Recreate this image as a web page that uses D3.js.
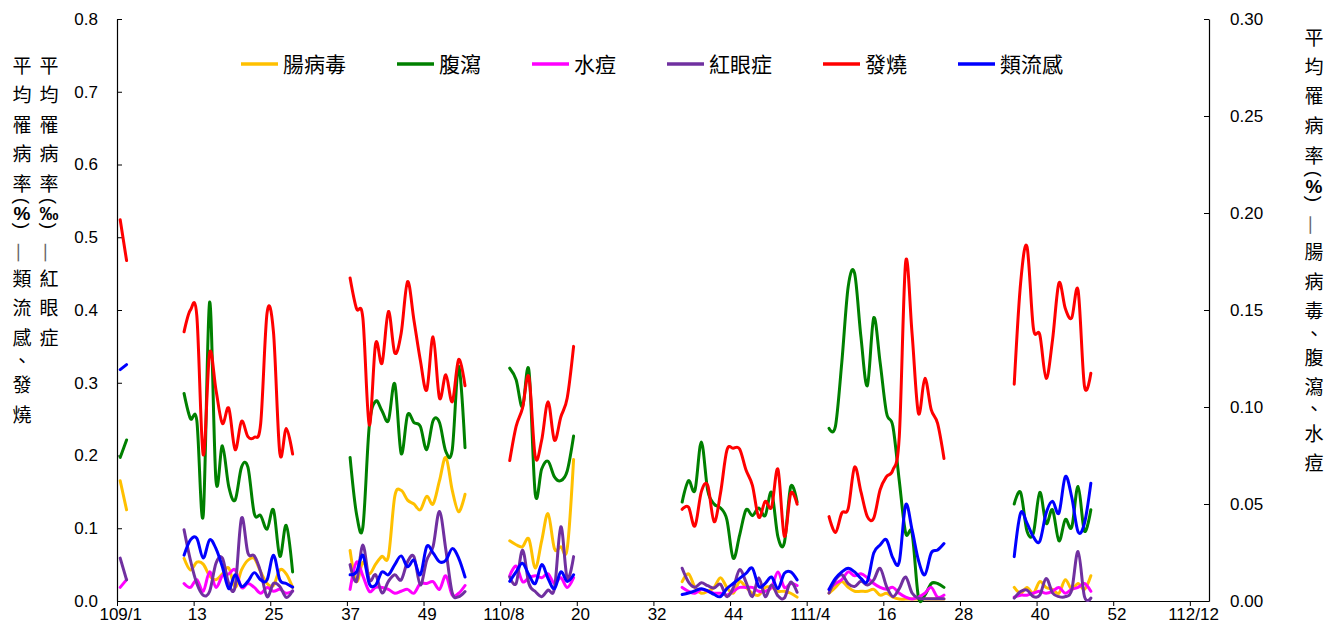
<!DOCTYPE html>
<html><head><meta charset="utf-8">
<script src="https://cdn.jsdelivr.net/npm/d3@7"></script>
<style>body{margin:0;background:#fff}svg{display:block}</style>
</head><body>
<svg id="chart" width="1340" height="624"></svg>
<script>
// ---- data (weekly average morbidity; segments start at these week indices, 0 = 109/1) ----
const segStart = [0, 10, 36, 61, 88, 111, 140];
const nWeeks = 171;
const xTickLabels = ["109/1","13","25","37","49","110/8","20","32","44","111/4","16","28","40","52","112/12"];
const leftTicks = [0,0.1,0.2,0.3,0.4,0.5,0.6,0.7,0.8];
const rightTicks = [0,0.05,0.10,0.15,0.20,0.25,0.30];

// 腸病毒 (right axis, %)
const enterovirus = [
  [0.062,0.047],
  [0.022,0.016,0.020,0.019,0.013,0.011,0.014,0.017,0.007,0.016,0.021,0.022,0.015,0.009,0.008,0.016,0.014,0.007],
  [0.026,0.010,0.020,0.014,0.019,0.023,0.023,0.054,0.057,0.052,0.050,0.047,0.054,0.050,0.062,0.074,0.057,0.046,0.055],
  [0.031,0.029,0.028,0.032,0.017,0.031,0.045,0.027,0.028,0.027,0.073],
  [0.010,0.014,0.007,0.004,0.005,0.007,0.012,0.007,0.004,0.010,0.007,0.004,0.003,0.007,0.007,0.005,0.005,0.004,0.002],
  [0.004,0.007,0.010,0.007,0.005,0.005,0.005,0.006,0.003,0.004,0.002,0.001,0.001,0.001,0.001,0.001,0.001,0.001,0.001],
  [0.007,0.004,0.007,0.004,0.010,0.007,0.006,0.004,0.011,0.006,0.009,0.006,0.013]
];
// 腹瀉 (right axis, %)
const diarrhea = [
  [0.074,0.083],
  [0.107,0.094,0.093,0.044,0.154,0.062,0.080,0.059,0.052,0.069,0.069,0.045,0.044,0.037,0.047,0.023,0.039,0.015],
  [0.074,0.045,0.038,0.090,0.103,0.098,0.093,0.112,0.076,0.096,0.092,0.090,0.078,0.093,0.092,0.077,0.078,0.121,0.079],
  [0.120,0.114,0.100,0.119,0.055,0.068,0.072,0.064,0.062,0.067,0.085],
  [0.051,0.062,0.057,0.082,0.057,0.050,0.048,0.042,0.022,0.034,0.047,0.044,0.048,0.044,0.056,0.033,0.030,0.059,0.051],
  [0.089,0.090,0.123,0.162,0.169,0.136,0.111,0.146,0.123,0.097,0.090,0.062,0.035,0.035,0.002,0.003,0.009,0.009,0.007],
  [0.050,0.056,0.036,0.035,0.056,0.040,0.047,0.031,0.042,0.038,0.059,0.036,0.047]
];
// 水痘 (right axis, %)
const chickenpox = [
  [0.007,0.011],
  [0.009,0.007,0.011,0.005,0.015,0.007,0.013,0.014,0.016,0.007,0.009,0.007,0.004,0.007,0.005,0.006,0.004,0.005],
  [0.006,0.020,0.013,0.005,0.007,0.007,0.006,0.004,0.005,0.006,0.004,0.009,0.009,0.010,0.006,0.013,0.003,0.004,0.008],
  [0.013,0.018,0.010,0.012,0.013,0.012,0.014,0.009,0.012,0.007,0.012],
  [0.007,0.005,0.004,0.006,0.005,0.004,0.004,0.003,0.005,0.007,0.007,0.007,0.005,0.005,0.007,0.015,0.007,0.009,0.008],
  [0.006,0.009,0.011,0.015,0.013,0.014,0.012,0.009,0.007,0.006,0.007,0.004,0.002,0.001,0.002,0.004,0.007,0.002,0.003],
  [0.002,0.003,0.003,0.004,0.005,0.004,0.005,0.007,0.004,0.006,0.007,0.009,0.005]
];
// 紅眼症 (left axis, ‰)
const conjunctivitis = [
  [0.059,0.029],
  [0.098,0.056,0.024,0.008,0.013,0.052,0.059,0.024,0.020,0.114,0.066,0.062,0.040,0.006,0.024,0.020,0.005,0.014],
  [0.050,0.027,0.077,0.029,0.036,0.011,0.027,0.036,0.029,0.054,0.061,0.022,0.056,0.075,0.123,0.070,0.011,0.006,0.013],
  [0.033,0.024,0.070,0.024,0.013,0.006,0.015,0.017,0.102,0.031,0.061],
  [0.045,0.026,0.019,0.025,0.021,0.018,0.023,0.006,0.018,0.043,0.026,0.006,0.032,0.006,0.022,0.007,0.004,0.026,0.012],
  [0.011,0.029,0.036,0.024,0.020,0.027,0.022,0.029,0.045,0.020,0.006,0.017,0.033,0.011,0.004,0.003,0.003,0.003,0.003],
  [0.004,0.013,0.015,0.006,0.008,0.031,0.011,0.006,0.006,0.015,0.068,0.006,0.004]
];
// 發燒 (left axis, %)
const fever = [
  [0.524,0.468],
  [0.370,0.400,0.392,0.201,0.341,0.290,0.244,0.265,0.208,0.247,0.226,0.225,0.244,0.396,0.370,0.203,0.237,0.202],
  [0.444,0.402,0.389,0.242,0.354,0.327,0.398,0.341,0.368,0.439,0.386,0.331,0.290,0.363,0.279,0.311,0.274,0.332,0.296],
  [0.193,0.240,0.265,0.308,0.198,0.221,0.274,0.221,0.253,0.279,0.350],
  [0.126,0.129,0.103,0.150,0.159,0.109,0.148,0.207,0.210,0.209,0.180,0.159,0.115,0.137,0.129,0.181,0.089,0.148,0.133],
  [0.116,0.094,0.121,0.127,0.184,0.150,0.116,0.114,0.153,0.171,0.180,0.226,0.466,0.368,0.258,0.306,0.263,0.244,0.196],
  [0.298,0.437,0.487,0.375,0.366,0.306,0.359,0.437,0.402,0.389,0.427,0.295,0.313]
];
// 類流感 (left axis, %)
const influenza = [
  [0.318,0.325],
  [0.063,0.084,0.086,0.059,0.084,0.072,0.047,0.017,0.036,0.020,0.027,0.039,0.029,0.029,0.063,0.029,0.024,0.019],
  [0.036,0.040,0.063,0.024,0.022,0.040,0.036,0.050,0.062,0.047,0.056,0.036,0.075,0.066,0.054,0.056,0.072,0.059,0.033],
  [0.027,0.040,0.052,0.036,0.024,0.050,0.031,0.017,0.040,0.027,0.036],
  [0.009,0.011,0.014,0.017,0.014,0.009,0.006,0.017,0.024,0.031,0.038,0.045,0.020,0.024,0.033,0.017,0.038,0.040,0.029],
  [0.016,0.031,0.040,0.045,0.040,0.031,0.027,0.066,0.077,0.084,0.059,0.054,0.132,0.098,0.056,0.036,0.066,0.070,0.079],
  [0.061,0.121,0.107,0.088,0.082,0.121,0.137,0.121,0.171,0.143,0.095,0.107,0.162]
];

const seriesNames  = ["腸病毒","腹瀉","水痘","紅眼症","發燒","類流感"];
const seriesData   = [enterovirus, diarrhea, chickenpox, conjunctivitis, fever, influenza];
const seriesAxis   = ["right","right","right","left","left","left"];
const seriesColors = ["#FFC000","#008000","#FF00FF","#7030A0","#FF0000","#0000FF"];

const leftTitle1 = ["平","均","罹","病","率","(","%",")","—","類","流","感","、","發","燒"];
const leftTitle2 = ["平","均","罹","病","率","(","‰",")","—","紅","眼","症"];
const rightTitle = ["平","均","罹","病","率","(","%",")","—","腸","病","毒","、","腹","瀉","、","水","痘"];

// ---- layout ----
const svg = d3.select("#chart");
const L = 117, R = 1209, T = 19, B = 601;
const latin = "'Liberation Sans', Arial, sans-serif";
const cjk = "'Noto Sans CJK TC', 'Noto Sans CJK SC', sans-serif";

const x = d3.scaleLinear().domain([0, nWeeks]).range([L, R]);
const yL = d3.scaleLinear().domain([0, 0.8]).range([B, T]);
const yR = d3.scaleLinear().domain([0, 0.3]).range([B, T]);

// axes
const gx = svg.append("g").attr("transform", `translate(0,${B})`)
  .call(d3.axisBottom(x).tickValues(xTickLabels.map((_, k) => k * 12))
    .tickSizeInner(5).tickSizeOuter(0).tickPadding(2)
    .tickFormat((d, k) => xTickLabels[k]));
gx.selectAll("text").attr("x", (x(0.5) - x(0)));
const gl = svg.append("g").attr("transform", `translate(${L},0)`)
  .call(d3.axisLeft(yL).tickValues(leftTicks).tickSizeInner(-5).tickSizeOuter(0).tickPadding(19)
    .tickFormat(d3.format(".1f")));
const gr = svg.append("g").attr("transform", `translate(${R},0)`)
  .call(d3.axisRight(yR).tickValues(rightTicks).tickSizeInner(-5).tickSizeOuter(0).tickPadding(21)
    .tickFormat(d3.format(".2f")));
[gx, gl, gr].forEach(g => {
  g.selectAll("text").attr("font-family", latin).attr("font-size", 17).attr("fill", "#000");
  g.selectAll("line,path").attr("stroke", "#000").attr("stroke-width", 1);
  g.select(".domain").attr("stroke-width", 1.2);
});

// series lines
seriesData.forEach((segs, s) => {
  const flat = new Array(nWeeks).fill(null);
  segs.forEach((vals, g) => vals.forEach((v, k) => { flat[segStart[g] + k] = v; }));
  const ys = seriesAxis[s] === "left" ? yL : yR;
  const line = d3.line()
    .defined(d => d != null)
    .x((d, i) => x(i + 0.5))
    .y(d => ys(d))
    .curve(d3.curveCardinal.tension(0));
  svg.append("path").datum(flat)
    .attr("d", line)
    .attr("fill", "none")
    .attr("stroke", seriesColors[s])
    .attr("stroke-width", 3)
    .attr("stroke-linejoin", "round")
    .attr("stroke-linecap", "round");
});

// legend
let lx = 241;
const ly = 64;
seriesNames.forEach((name, s) => {
  svg.append("line").attr("x1", lx).attr("x2", lx + 37).attr("y1", ly).attr("y2", ly)
    .attr("stroke", seriesColors[s]).attr("stroke-width", 3.5);
  const t = svg.append("text").attr("x", lx + 42).attr("y", ly).attr("dy", "0.36em")
    .attr("font-family", cjk).attr("font-size", 21).attr("fill", "#000").text(name);
  lx += 42 + t.node().getComputedTextLength() + 51;
});

// vertical (stacked) axis titles: one glyph per row, brackets and dash rotated as in vertical text
const leftRowsY  = [66, 95.5, 125, 154.5, 184, 201, 213, 226, 252.5, 279, 308.5, 338, 361, 385.5, 415];
const rightRowsY = [38, 67, 96, 126, 156, 174, 186, 199, 225, 252, 282, 311, 334, 358, 387, 409, 434, 463];
function drawColumn(chars, cx, rowsY, fs) {
  chars.forEach((c, k) => {
    const y = rowsY[k];
    const rot = (c === "(" || c === ")" || c === "—");
    const isLatin = (c === "%" || c === "‰" || c === "(" || c === ")");
    const t = svg.append("text").attr("x", cx).attr("y", y)
      .attr("text-anchor", "middle")
      .attr("font-family", isLatin ? latin : cjk)
      .attr("font-weight", (c === "%" || c === "‰") ? "bold" : "normal")
      .attr("font-size", c === "—" ? 22 : fs).attr("fill", c === "—" ? "#666" : "#000").text(c);
    if (rot) {
      t.attr("dominant-baseline", "central").attr("transform", `rotate(90,${cx},${y})`);
    } else {
      t.attr("dy", "0.36em");
    }
  });
}
drawColumn(leftTitle1, 22, leftRowsY, 19);
drawColumn(leftTitle2, 49, leftRowsY, 19);
drawColumn(rightTitle, 1314, rightRowsY, 19);
</script>
</body></html>
